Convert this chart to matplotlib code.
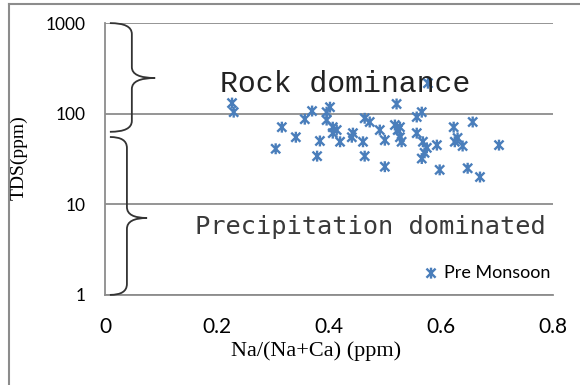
import numpy as np
import matplotlib
matplotlib.use("Agg")
import matplotlib.pyplot as plt
from matplotlib.path import Path
from matplotlib.patches import PathPatch
from matplotlib.lines import Line2D

# Pre Monsoon samples: Na/(Na+Ca) and TDS (ppm)
na_ratio = [0.227, 0.230, 0.316, 0.305, 0.341, 0.357, 0.370, 0.384, 0.379, 0.402,
            0.396, 0.396, 0.407, 0.414, 0.420, 0.443, 0.441, 0.461, 0.464, 0.464,
            0.473, 0.491, 0.500, 0.500, 0.521, 0.518, 0.523, 0.527, 0.530, 0.557,
            0.566, 0.557, 0.568, 0.575, 0.566, 0.571, 0.593, 0.598, 0.577, 0.623,
            0.657, 0.625, 0.630, 0.639, 0.704, 0.648, 0.670, 0.407, 0.527]
tds = [131, 104, 71, 41, 55, 87, 107, 50, 34, 118,
       104, 85, 61, 66, 49, 61, 55, 49, 34, 89,
       81, 66, 51, 26, 128, 75, 66, 55, 49, 92,
       104, 61, 49, 42, 32, 37, 45, 24, 217, 71,
       81, 49, 54, 44, 45, 25, 20, 71, 71]

x_ticks = [0, 0.2, 0.4, 0.6, 0.8]
y_ticks = [1, 10, 100, 1000]
series_label = "Pre Monsoon"

blue = "#4a7ebb"
grid_gray = "#8c8c8c"

# Excel style star marker: an X with a vertical stroke
star = Path([(-1, -1), (1, 1), (-1, 1), (1, -1), (0, -1.2), (0, 1.2)],
            [Path.MOVETO, Path.LINETO] * 3)

fig = plt.figure(figsize=(5.8, 3.85), dpi=100)
ax = fig.add_axes([0.181, 0.234, 0.772, 0.706])

ax.scatter(na_ratio, tds, marker=star, s=62, facecolor="none",
           edgecolor=blue, linewidths=1.7, label=series_label, zorder=3)

ax.set_yscale("log")
ax.set_xlim(0, 0.8)
ax.set_ylim(1, 1000)
ax.set_xticks(x_ticks)
ax.set_xticklabels(["0" if v == 0 else f"{v:.1f}" for v in x_ticks],
                   fontsize=15, family="Lato")
ax.set_yticks(y_ticks)
ax.set_yticklabels([str(v) for v in y_ticks], fontsize=12.5, family="Lato")
ax.yaxis.set_minor_locator(matplotlib.ticker.NullLocator())
ax.tick_params(axis="both", length=0)
ax.tick_params(axis="x", pad=16)
ax.tick_params(axis="y", pad=14)

for s in ["top", "right"]:
    ax.spines[s].set_visible(False)
ax.spines["left"].set_color(grid_gray)
ax.spines["bottom"].set_color(grid_gray)
ax.spines["left"].set_linewidth(1.3)
ax.spines["bottom"].set_linewidth(1.3)
ax.grid(True, axis="y", color=grid_gray, linewidth=1.3)
ax.set_axisbelow(True)

ax.set_ylabel("TDS(ppm)", family="Liberation Serif", fontsize=14)
ax.yaxis.set_label_coords(-0.172, 0.504)
ax.set_xlabel("Na/(Na+Ca) (ppm)", family="Liberation Serif", fontsize=16)
ax.xaxis.set_label_coords(0.471, -0.17)


def brace(x0, xi, xt, ytop, ytip, ybot, r=0.04):
    verts = [(x0, ytop), (xi, ytop), (xi, ytop - r),
             (xi, ytip + r), (xi, ytip), (xt, ytip),
             (xi, ytip), (xi, ytip - r),
             (xi, ybot + r), (xi, ybot), (x0, ybot)]
    codes = [Path.MOVETO, Path.CURVE3, Path.CURVE3,
             Path.LINETO, Path.CURVE3, Path.CURVE3,
             Path.CURVE3, Path.CURVE3,
             Path.LINETO, Path.CURVE3, Path.CURVE3]
    ax.add_patch(PathPatch(Path(verts, codes), transform=ax.transAxes,
                           facecolor="none", edgecolor="#333333",
                           linewidth=1.3, clip_on=False, zorder=4))


brace(0.011, 0.060, 0.112, 1.0, 0.798, 0.60)
brace(0.011, 0.049, 0.094, 0.581, 0.283, 0.0)

ax.text(0.536, 0.776, "Rock dominance", transform=ax.transAxes,
        family="Liberation Mono", fontsize=21.5, color="#222222",
        ha="center", va="center")
ax.text(0.592, 0.25, "Precipitation dominated", transform=ax.transAxes,
        family="DejaVu Sans Mono", fontsize=18.3, color="#3a3a3a",
        ha="center", va="center")

ax.legend(loc="center", bbox_to_anchor=(0.853, 0.081), frameon=False,
          prop={"family": "Lato", "size": 13}, handlelength=0.8,
          handletextpad=0.3, borderpad=0)

# chart border (only the top and left edges fall inside the image)
fig.add_artist(Line2D([9 / 580, 1], [1 - 4 / 385, 1 - 4 / 385],
                      transform=fig.transFigure, color="#8c8c8c", linewidth=1.5))
fig.add_artist(Line2D([9 / 580, 9 / 580], [0, 1 - 4 / 385],
                      transform=fig.transFigure, color="#8c8c8c", linewidth=1.5))

fig.savefig("out.png", dpi=100)
